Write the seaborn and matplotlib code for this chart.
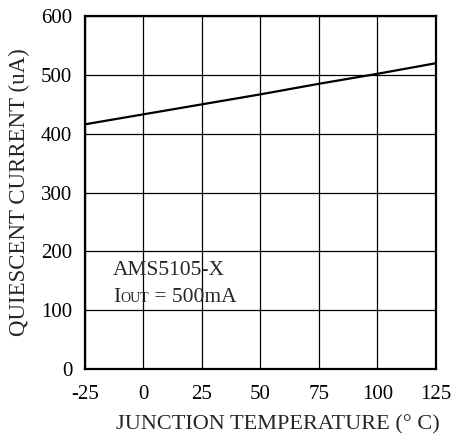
import matplotlib
matplotlib.use("Agg")
import matplotlib.pyplot as plt
import seaborn as sns
import pandas as pd

# datos
temperature = [-25, 0, 25, 50, 75, 100, 125]
quiescent_ua = [416, 433, 450, 467, 485, 502, 520]
x_ticks = [-25, 0, 25, 50, 75, 100, 125]
y_ticks = [0, 100, 200, 300, 400, 500, 600]

sns.set_style("white")
plt.rcParams['font.family'] = ['Liberation Serif', 'DejaVu Serif']
plt.rcParams['axes.unicode_minus'] = False

df = pd.DataFrame({'temp': temperature, 'iq': quiescent_ua})

fig = plt.figure(figsize=(4.56, 4.38), dpi=100)
ax = fig.add_axes([0.186, 0.158, 0.770, 0.805])

sns.lineplot(data=df, x='temp', y='iq', ax=ax, color='black', linewidth=1.6)

ax.set_xlim(-25, 125)
ax.set_ylim(0, 600)
ax.set_xticks(x_ticks)
ax.set_yticks(y_ticks)
ax.grid(True, color='black', linewidth=0.9)
ax.tick_params(length=0, labelsize=15, colors='black')
ax.tick_params(axis='x', pad=12)
ax.tick_params(axis='y', pad=9)
for s in ax.spines.values():
    s.set_color('black')
    s.set_linewidth(1.6)

ax.set_xlabel('JUNCTION TEMPERATURE (° C)', fontsize=16)
ax.set_ylabel('QUIESCENT CURRENT (uA)', fontsize=16.5)
ax.xaxis.set_label_coords(0.55, -0.13)
ax.yaxis.set_label_coords(-0.155, 0.5)

# anotacion
ax.text(-13, 168, 'AMS5105-X', fontsize=15.5, va='center')
t1 = ax.text(-13, 122, 'I', fontsize=15.5, va='center')
t2 = ax.annotate('OUT', xy=(1, 0), xycoords=t1, fontsize=10, va='bottom', xytext=(0, 1.5), textcoords='offset points')
ax.annotate(' = 500mA', xy=(1, 0), xycoords=t2, fontsize=15.5, va='bottom', xytext=(0, -1.5), textcoords='offset points')

fig.savefig('out.png', dpi=100)
